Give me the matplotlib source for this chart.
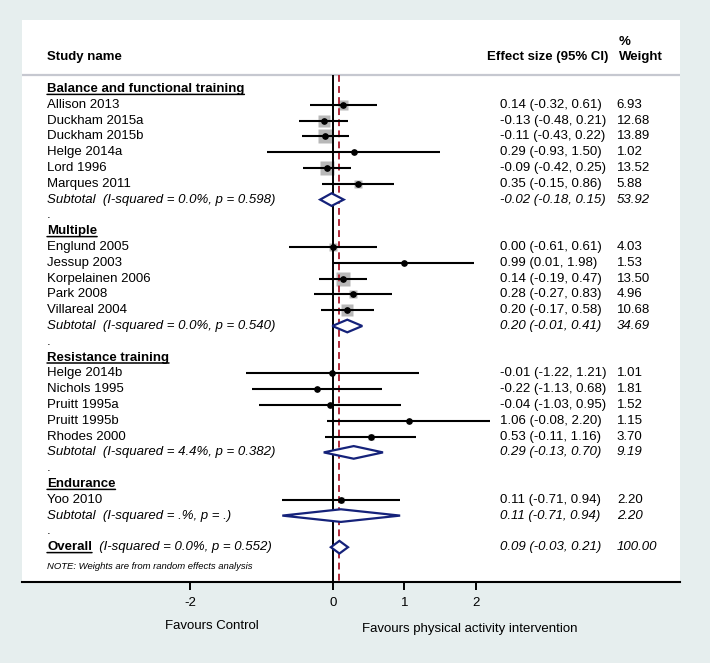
import matplotlib
matplotlib.use("Agg")
import matplotlib.pyplot as plt

plt.rcParams['font.family'] = ['Liberation Sans', 'DejaVu Sans']
plt.rcParams['axes.unicode_minus'] = False

# ---- data ----
groups = ["Balance and functional training", "Multiple",
          "Resistance training", "Endurance"]
studies = [
    ["Allison 2013", "Duckham 2015a", "Duckham 2015b", "Helge 2014a",
     "Lord 1996", "Marques 2011"],
    ["Englund 2005", "Jessup 2003", "Korpelainen 2006", "Park 2008",
     "Villareal 2004"],
    ["Helge 2014b", "Nichols 1995", "Pruitt 1995a", "Pruitt 1995b",
     "Rhodes 2000"],
    ["Yoo 2010"],
]
es = [[0.14, -0.13, -0.11, 0.29, -0.09, 0.35],
      [0.00, 0.99, 0.14, 0.28, 0.20],
      [-0.01, -0.22, -0.04, 1.06, 0.53],
      [0.11]]
lo = [[-0.32, -0.48, -0.43, -0.93, -0.42, -0.15],
      [-0.61, 0.01, -0.19, -0.27, -0.17],
      [-1.22, -1.13, -1.03, -0.08, -0.11],
      [-0.71]]
hi = [[0.61, 0.21, 0.22, 1.50, 0.25, 0.86],
      [0.61, 1.98, 0.47, 0.83, 0.58],
      [1.21, 0.68, 0.95, 2.20, 1.16],
      [0.94]]
wt = [[6.93, 12.68, 13.89, 1.02, 13.52, 5.88],
      [4.03, 1.53, 13.50, 4.96, 10.68],
      [1.01, 1.81, 1.52, 1.15, 3.70],
      [2.20]]

sub_i2 = ["0.0%", "0.0%", "4.4%", ".%"]
sub_p = ["0.598", "0.540", "0.382", "."]
sub_es = [-0.02, 0.20, 0.29, 0.11]
sub_lo = [-0.18, -0.01, -0.13, -0.71]
sub_hi = [0.15, 0.41, 0.70, 0.94]
sub_wt = [53.92, 34.69, 9.19, 2.20]

overall_es, overall_lo, overall_hi, overall_wt = 0.09, -0.03, 0.21, 100.00
overall_i2, overall_p = "0.0%", "0.552"

xticks = [-2, 0, 1, 2]

# ---- layout ----
W, H = 710, 663
FS = 9.5
NAVY = '#15227a'
GREY = '#b8b8b8'

fig = plt.figure(figsize=(W / 100.0, H / 100.0), dpi=100, facecolor='#e6eeee')
ax = fig.add_axes([22.0 / W, 1 - 582.0 / H, 658.0 / W, 562.0 / H])
ax.set_facecolor('white')

# x: 0 at 333 px, 71.4 px per unit; y: row 0 at 89 px, 15.8 px per row
ax.set_xlim((22 - 333) / 71.4, (680 - 333) / 71.4)
ax.set_ylim((582 - 89) / 15.8, (20 - 89) / 15.8)
ytop = (75 - 89) / 15.8
ybot = ax.get_ylim()[0]

tr = ax.get_yaxis_transform()
X_NAME, X_ES, X_WT = 0.038, 0.726, 0.904


def fmt_ci(e, l, h):
    return "%.2f (%.2f, %.2f)" % (e, l, h)


def underline(t):
    ax.annotate("", xy=(1, 0.05), xycoords=t, xytext=(0, 0.05), textcoords=t,
                arrowprops=dict(arrowstyle='-', lw=1.1, color='black',
                                shrinkA=0, shrinkB=0))


def diamond(e, l, h, r):
    ax.fill([l, e, h, e, l], [r, r - 0.4, r, r + 0.4, r], facecolor='white',
            edgecolor=NAVY, lw=1.6, zorder=4, joinstyle='miter')


# header
ax.text(X_NAME, -2.0, "Study name", transform=tr, fontsize=FS, weight='bold',
        va='center')
ax.text(0.706, -2.0, "Effect size (95% CI)", transform=tr, fontsize=FS,
        weight='bold', va='center')
ax.text(0.907, -2.97, "%", transform=tr, fontsize=FS, weight='bold', va='center')
ax.text(0.907, -2.0, "Weight", transform=tr, fontsize=FS, weight='bold',
        va='center')
ax.axhline(ytop, color='#c6c8d0', lw=1.6, zorder=1)

ax.vlines(0, ytop, ybot, color='black', lw=1.4, zorder=3)
ax.vlines(overall_es, ytop, ybot, color='#b02a3a', lw=1.4, zorder=3,
          linestyles=(0, (3.5, 2.2)))

r = 0
for g in range(len(groups)):
    t = ax.text(X_NAME, r, groups[g], transform=tr, fontsize=FS,
                weight='bold', va='center')
    underline(t)
    r += 1
    for k in range(len(studies[g])):
        ax.text(X_NAME, r, studies[g][k], transform=tr, fontsize=FS,
                va='center')
        ax.plot(es[g][k], r, marker='s', ms=2.57 * wt[g][k] ** 0.5,
                mfc=GREY, mec='none', zorder=2)
        ax.hlines(r, lo[g][k], hi[g][k], color='black', lw=1.5, zorder=3)
        ax.plot(es[g][k], r, marker='o', ms=3.8, color='black', zorder=5)
        ax.text(X_ES, r, fmt_ci(es[g][k], lo[g][k], hi[g][k]), transform=tr,
                fontsize=FS, va='center')
        ax.text(X_WT, r, "%.2f" % wt[g][k], transform=tr, fontsize=FS,
                va='center')
        r += 1
    ax.text(X_NAME, r, "Subtotal  (I-squared = %s, p = %s)" % (sub_i2[g], sub_p[g]),
            transform=tr, fontsize=FS, style='italic', va='center')
    diamond(sub_es[g], sub_lo[g], sub_hi[g], r)
    ax.text(X_ES, r, fmt_ci(sub_es[g], sub_lo[g], sub_hi[g]), transform=tr,
            fontsize=FS, style='italic', va='center')
    ax.text(X_WT, r, "%.2f" % sub_wt[g], transform=tr, fontsize=FS,
            style='italic', va='center')
    r += 1
    ax.text(X_NAME, r, ".", transform=tr, fontsize=FS, va='center')
    r += 1

t = ax.text(X_NAME, r, "Overall", transform=tr, fontsize=FS, weight='bold',
            va='center')
underline(t)
ax.annotate("  (I-squared = %s, p = %s)" % (overall_i2, overall_p),
            xy=(1, 0.5), xycoords=t, va='center', ha='left', fontsize=FS,
            style='italic')
diamond(overall_es, overall_lo, overall_hi, r)
ax.text(X_ES, r, fmt_ci(overall_es, overall_lo, overall_hi), transform=tr,
        fontsize=FS, style='italic', va='center')
ax.text(X_WT, r, "%.2f" % overall_wt, transform=tr, fontsize=FS,
        style='italic', va='center')
ax.text(X_NAME, r + 1.2, "NOTE: Weights are from random effects analysis",
        transform=tr, fontsize=6.8, style='italic', va='center')

# axis
for s in ['top', 'left', 'right']:
    ax.spines[s].set_visible(False)
ax.spines['bottom'].set_linewidth(1.5)
ax.set_yticks([])
ax.set_xticks(xticks)
ax.set_xticklabels([str(v) for v in xticks])
ax.tick_params(axis='x', direction='out', length=6, width=1.4,
               labelsize=FS, pad=5)

fig.text(212.0 / W, 1 - 626.0 / H, "Favours Control", ha='center',
         va='center', fontsize=FS)
fig.text(470.0 / W, 1 - 629.0 / H, "Favours physical activity intervention",
         ha='center', va='center', fontsize=FS)

fig.savefig("out.png", dpi=100, facecolor=fig.get_facecolor())
